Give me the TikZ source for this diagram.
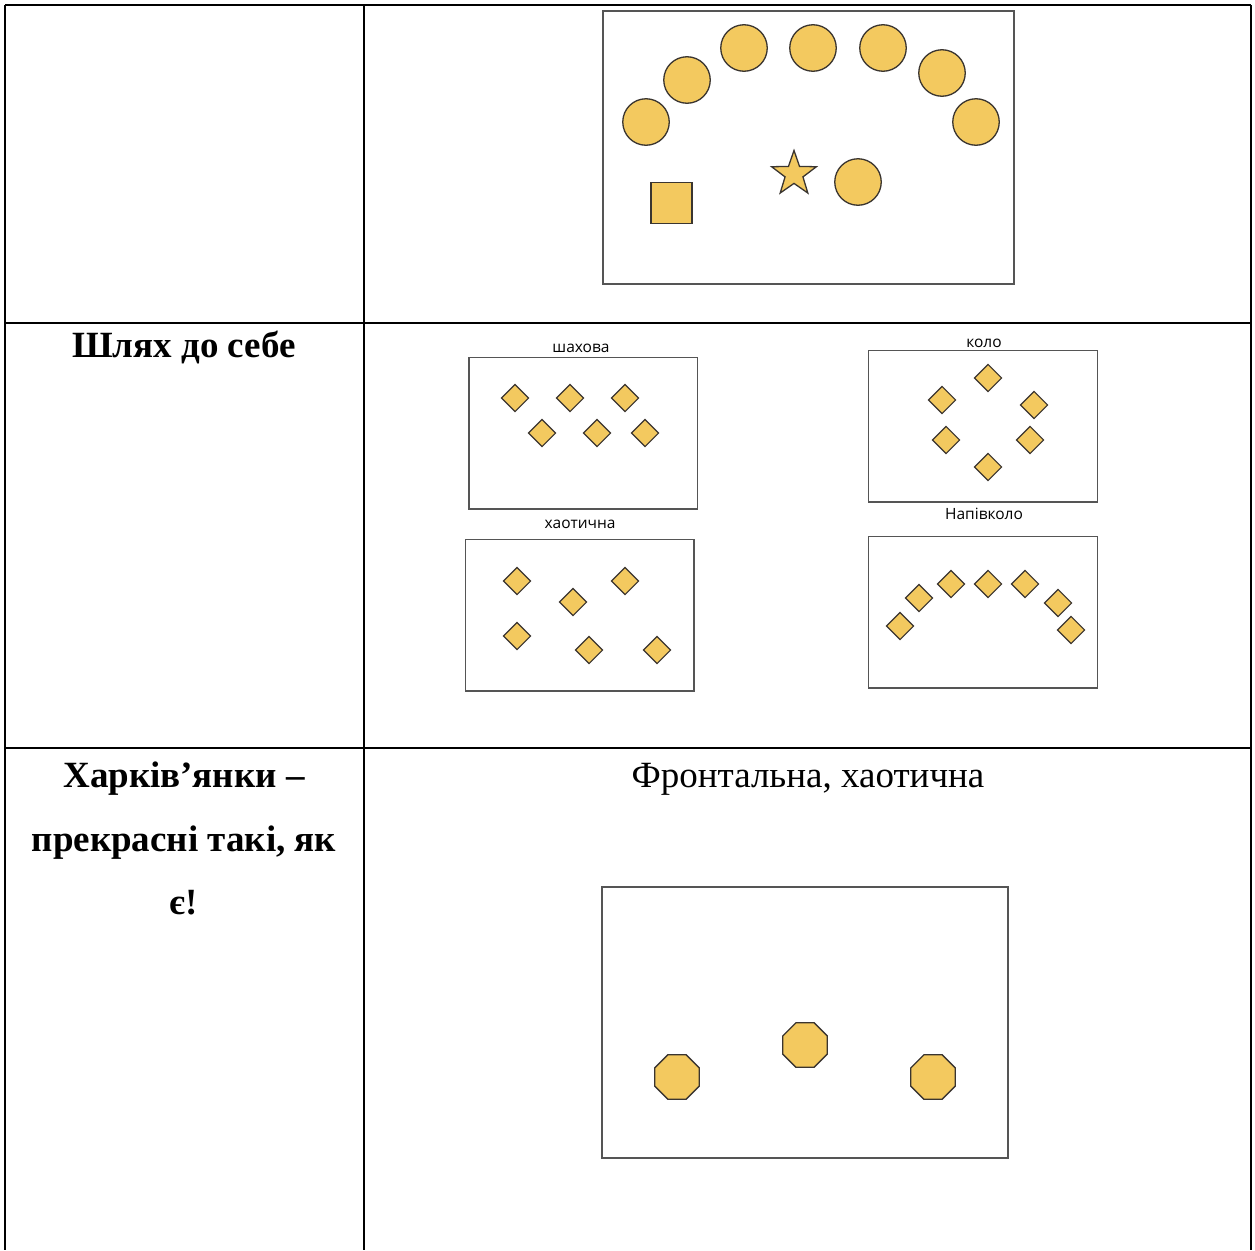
\documentclass[tikz,border=0pt]{standalone}
\usepackage{fontspec}
\setmainfont{Liberation Serif}
\newfontfamily\labelfont{Open Sans}
\usepackage{xcolor}
\usetikzlibrary{shapes.geometric,positioning}
\definecolor{seatyellow}{HTML}{F3C95F}
\definecolor{seatedge}{HTML}{3A3530}
\definecolor{framegray}{HTML}{555555}
\tikzset{
    gridline/.style={line width=1.8pt, black},
    hallframe/.style={draw=framegray, line width=2pt},
    matframe/.style={draw=framegray, line width=1.3pt},
    chair/.style={circle, draw=seatedge, fill=seatyellow, line width=1.3pt, inner sep=0pt, minimum size=46.5pt},
    mat/.style={diamond, draw=seatedge, fill=seatyellow, line width=1.1pt, inner sep=0pt, minimum size=27.5pt},
    pad/.style={regular polygon, regular polygon sides=8, draw=seatedge, fill=seatyellow, line width=1.3pt, inner sep=0pt, minimum size=48pt},
    headtext/.style={font=\fontsize{37}{44}\selectfont\bfseries, inner sep=0pt},
    plaintext/.style={font=\fontsize{37}{44}\selectfont, inner sep=0pt},
    smalltext/.style={font=\labelfont\fontsize{15.5}{18}\selectfont, inner sep=0pt}
}

\begin{document}
\begin{tikzpicture}[x=1pt, y=-1pt]
                                \useasboundingbox (0,0) rectangle (1255,1250);
                                \draw[gridline] (5,5) -- (1251,5);
                                \draw[gridline] (5,323) -- (1251,323);
                                \draw[gridline] (5,748) -- (1251,748);
                                \draw[gridline] (5,5) -- (5,1250);
                                \draw[gridline] (364,5) -- (364,1250);
                                \draw[gridline] (1251,5) -- (1251,1250);
                                \draw[hallframe] (602.5,10.5) rectangle (1014,284);
                                \node[chair] (c1) at (646,122) {};
                                \node[chair] (c2) at (687,80) {};
                                \node[chair] (c3) at (744,48) {};
                                \node[chair] (c4) at (813,48) {};
                                \node[chair] (c5) at (883,48) {};
                                \node[chair] (c6) at (942,73) {};
                                \node[chair] (c7) at (976,122) {};
                                \node[chair] (c8) at (858,182) {};
                                \node[star, star points=5, star point ratio=2.5, draw=seatedge, fill=seatyellow, line width=1.3pt, inner sep=0pt, minimum size=47pt] (lead) at (794,174) {};
                                \node[rectangle, draw=seatedge, fill=seatyellow, line width=1.3pt, inner sep=0pt, minimum size=41pt] (host) at (671.5,203) {};
                                \node[headtext, anchor=base] (path) at (184,357) {Шлях до себе};
                                \node[smalltext, anchor=base] (chess) at (581,352) {шахова};
                                \draw[matframe] (469,357.5) rectangle (697.5,509);
                                \node[mat] (s1) at (515,398) {};
                                \node[mat] (s2) at (570,398) {};
                                \node[mat] (s3) at (625,398) {};
                                \node[mat] (s4) at (542,433) {};
                                \node[mat] (s5) at (597,433) {};
                                \node[mat] (s6) at (645,433) {};
                                \node[smalltext, anchor=base] (ring) at (984,347) {коло};
                                \draw[matframe] (868.5,350.5) rectangle (1097.5,502);
                                \node[mat] (r1) at (988,378) {};
                                \node[mat] (r2) at (942,400) {};
                                \node[mat] (r3) at (1034,405) {};
                                \node[mat] (r4) at (946,440) {};
                                \node[mat] (r5) at (1030,440) {};
                                \node[mat] (r6) at (988,467) {};
                                \node[smalltext, anchor=base] (mess) at (580,528) {хаотична};
                                \draw[matframe] (465.5,539.5) rectangle (694,691);
                                \node[mat] (m1) at (517,581) {};
                                \node[mat] (m2) at (573,602) {};
                                \node[mat] (m3) at (625,581) {};
                                \node[mat] (m4) at (517,636) {};
                                \node[mat] (m5) at (589,650) {};
                                \node[mat] (m6) at (657,650) {};
                                \node[smalltext, anchor=base] (halfring) at (984,519) {Напівколо};
                                \draw[matframe] (868.5,536.5) rectangle (1097.5,688);
                                \node[mat] (h1) at (900,626) {};
                                \node[mat] (h2) at (919,598) {};
                                \node[mat] (h3) at (951,584) {};
                                \node[mat] (h4) at (988,584) {};
                                \node[mat] (h5) at (1025,584) {};
                                \node[mat] (h6) at (1058,603) {};
                                \node[mat] (h7) at (1071,630) {};
                                \node[headtext, anchor=base] (kh1) at (184,787) {Харків’янки –};
                                \node[headtext, anchor=base] (kh2) at (184,851) {прекрасні такі, як};
                                \node[headtext, anchor=base] (kh3) at (184,914) {є!};
                                \node[plaintext, anchor=base] (front) at (808,787) {Фронтальна, хаотична};
                                \draw[hallframe] (601.5,887) rectangle (1008,1157.5);
                                \node[pad] (p1) at (677,1077) {};
                                \node[pad] (p2) at (805,1045) {};
                                \node[pad] (p3) at (933,1077) {};
                            \end{tikzpicture}
\end{document}
